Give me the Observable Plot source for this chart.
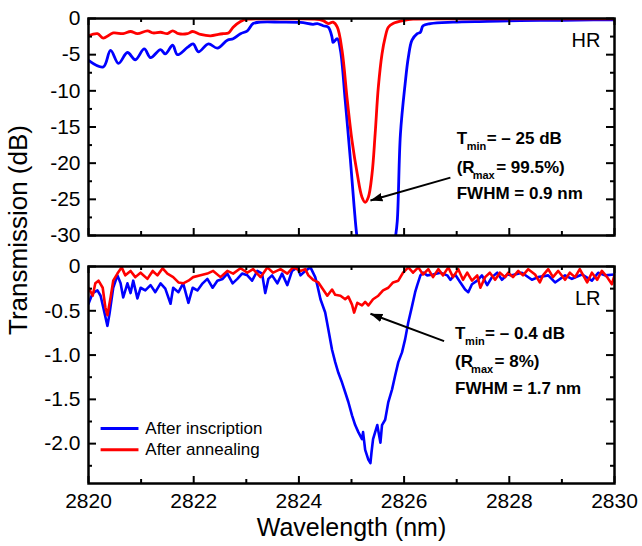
<!DOCTYPE html>
<html><head><meta charset="utf-8">
<script src="https://cdn.jsdelivr.net/npm/d3@7"></script>
<script src="https://cdn.jsdelivr.net/npm/@observablehq/plot@0.6"></script>
<style>
body{margin:0;background:#fff;}
#wrap{position:relative;width:642px;height:546px;font-family:"Liberation Sans",Arial,sans-serif;color:#000;}
#wrap svg{display:block;}
#ylab{position:absolute;left:-132px;top:215px;width:300px;height:30px;line-height:30px;text-align:center;font-size:26px;transform:rotate(-90deg);white-space:nowrap;z-index:2;}
</style></head><body><div id="wrap"><div id="ylab">Transmission (dB)</div></div>
<script>
// ---- data: [wavelength (nm), transmission (dB)] ----
const hrInscription = [[2820.00,-5.8],[2820.28,-6.7],[2820.42,-4.4],[2820.57,-6.2],[2820.74,-4.7],[2820.89,-5.7],[2821.06,-4.2],[2821.18,-5.4],[2821.37,-4.3],[2821.46,-4.9],[2821.60,-3.7],[2821.69,-5.0],[2821.88,-4.0],[2821.99,-3.5],[2822.09,-4.6],[2822.28,-3.5],[2822.45,-4.1],[2822.64,-3.0],[2822.75,-2.8],[2822.89,-2.1],[2823.02,-1.7],[2823.13,-0.7],[2823.27,-0.5],[2823.65,-0.5],[2824.03,-0.55],[2824.27,-0.8],[2824.35,-0.7],[2824.46,-1.0],[2824.56,-1.2],[2824.63,-2.6],[2824.65,-3.3],[2824.73,-2.8],[2824.79,-4.4],[2824.88,-11.3],[2824.98,-19.6],[2825.05,-26],[2825.11,-30.5],[2825.25,-36],[2825.50,-38],[2825.75,-34],[2825.83,-30.5],[2825.87,-28],[2825.93,-16],[2826.02,-9],[2826.08,-5.4],[2826.15,-3],[2826.25,-2.1],[2826.31,-1.9],[2826.36,-1.0],[2826.50,-0.7],[2826.93,-0.5],[2827.58,-0.4],[2828.20,-0.3],[2829.00,-0.25],[2829.60,-0.2],[2830.00,-0.2]];
const hrAnnealing = [[2820.00,-2.4],[2820.17,-2.1],[2820.28,-2.7],[2820.47,-2.0],[2820.66,-2.1],[2820.80,-1.8],[2820.93,-2.1],[2821.12,-1.7],[2821.23,-2.0],[2821.37,-1.9],[2821.50,-2.1],[2821.60,-1.7],[2821.71,-2.1],[2821.88,-2.1],[2821.98,-1.8],[2822.13,-2.2],[2822.32,-2.4],[2822.47,-2.2],[2822.56,-2.1],[2822.66,-2.0],[2822.75,-1.2],[2822.89,-0.4],[2823.02,-0.1],[2823.50,-0.05],[2824.00,-0.05],[2824.30,-0.1],[2824.46,-0.3],[2824.56,-0.7],[2824.65,-0.5],[2824.73,-1.2],[2824.82,-4.4],[2824.92,-11.3],[2825.01,-16.9],[2825.11,-21.5],[2825.20,-24.7],[2825.26,-25.4],[2825.32,-24.7],[2825.39,-21.5],[2825.45,-15.9],[2825.51,-9.5],[2825.58,-4.9],[2825.64,-2.6],[2825.70,-1.2],[2825.79,-0.7],[2825.98,-0.3],[2826.17,-0.1],[2827.00,-0.05],[2828.00,-0.05],[2829.00,-0.05],[2830.00,-0.05]];
const lrInscription = [[2820.00,-0.42],[2820.08,-0.30],[2820.17,-0.27],[2820.23,-0.33],[2820.28,-0.46],[2820.36,-0.67],[2820.40,-0.53],[2820.47,-0.24],[2820.55,-0.10],[2820.61,-0.19],[2820.66,-0.35],[2820.74,-0.19],[2820.80,-0.30],[2820.85,-0.16],[2820.93,-0.36],[2820.99,-0.24],[2821.08,-0.27],[2821.18,-0.21],[2821.27,-0.29],[2821.37,-0.19],[2821.46,-0.25],[2821.56,-0.42],[2821.61,-0.24],[2821.71,-0.29],[2821.80,-0.19],[2821.90,-0.41],[2821.98,-0.24],[2822.07,-0.27],[2822.17,-0.19],[2822.26,-0.14],[2822.36,-0.24],[2822.45,-0.16],[2822.55,-0.14],[2822.64,-0.08],[2822.74,-0.19],[2822.83,-0.14],[2822.92,-0.08],[2823.02,-0.10],[2823.11,-0.16],[2823.21,-0.05],[2823.30,-0.08],[2823.36,-0.30],[2823.42,-0.14],[2823.49,-0.10],[2823.59,-0.19],[2823.68,-0.08],[2823.78,-0.21],[2823.87,-0.05],[2823.97,-0.01],[2824.03,-0.10],[2824.12,-0.05],[2824.22,-0.01],[2824.31,-0.12],[2824.35,-0.21],[2824.41,-0.37],[2824.50,-0.52],[2824.56,-0.71],[2824.63,-0.94],[2824.69,-1.08],[2824.75,-1.20],[2824.82,-1.31],[2824.88,-1.42],[2824.94,-1.53],[2825.01,-1.68],[2825.07,-1.79],[2825.13,-1.87],[2825.20,-1.95],[2825.22,-1.87],[2825.26,-2.07],[2825.32,-2.18],[2825.36,-2.22],[2825.38,-2.10],[2825.41,-1.95],[2825.49,-1.79],[2825.55,-1.99],[2825.58,-1.79],[2825.64,-1.73],[2825.70,-1.53],[2825.77,-1.39],[2825.83,-1.23],[2825.89,-1.08],[2825.96,-0.97],[2826.02,-0.82],[2826.08,-0.63],[2826.15,-0.45],[2826.21,-0.29],[2826.25,-0.21],[2826.31,-0.10],[2826.36,-0.07],[2826.44,-0.10],[2826.55,-0.09],[2826.69,-0.07],[2826.82,-0.10],[2826.88,-0.15],[2826.97,-0.09],[2827.07,-0.18],[2827.16,-0.26],[2827.22,-0.29],[2827.29,-0.20],[2827.39,-0.16],[2827.48,-0.10],[2827.58,-0.21],[2827.67,-0.12],[2827.77,-0.07],[2827.86,-0.15],[2827.96,-0.09],[2828.05,-0.10],[2828.24,-0.07],[2828.43,-0.15],[2828.55,-0.12],[2828.74,-0.10],[2828.87,-0.18],[2829.06,-0.10],[2829.19,-0.14],[2829.38,-0.09],[2829.57,-0.16],[2829.69,-0.07],[2829.82,-0.10],[2830.00,-0.09]];
const lrAnnealing = [[2820.00,-0.24],[2820.08,-0.33],[2820.13,-0.19],[2820.19,-0.16],[2820.27,-0.24],[2820.32,-0.46],[2820.36,-0.55],[2820.42,-0.35],[2820.47,-0.16],[2820.55,-0.08],[2820.63,-0.01],[2820.70,-0.10],[2820.80,-0.05],[2820.89,-0.12],[2820.99,-0.07],[2821.12,-0.14],[2821.22,-0.05],[2821.31,-0.10],[2821.41,-0.02],[2821.50,-0.08],[2821.61,-0.12],[2821.71,-0.18],[2821.80,-0.19],[2821.90,-0.16],[2821.99,-0.12],[2822.13,-0.10],[2822.26,-0.08],[2822.37,-0.05],[2822.51,-0.12],[2822.64,-0.05],[2822.75,-0.08],[2822.89,-0.02],[2823.02,-0.07],[2823.13,-0.03],[2823.27,-0.12],[2823.40,-0.01],[2823.51,-0.07],[2823.65,-0.03],[2823.78,-0.08],[2823.89,-0.01],[2824.03,-0.05],[2824.12,-0.03],[2824.18,-0.10],[2824.27,-0.15],[2824.37,-0.18],[2824.46,-0.26],[2824.54,-0.33],[2824.63,-0.26],[2824.69,-0.32],[2824.79,-0.33],[2824.88,-0.37],[2824.94,-0.34],[2825.01,-0.43],[2825.05,-0.52],[2825.11,-0.41],[2825.20,-0.44],[2825.26,-0.40],[2825.32,-0.44],[2825.41,-0.37],[2825.51,-0.33],[2825.60,-0.27],[2825.70,-0.24],[2825.79,-0.18],[2825.89,-0.16],[2825.98,-0.07],[2826.08,-0.01],[2826.17,-0.07],[2826.27,-0.01],[2826.36,-0.09],[2826.46,-0.03],[2826.55,-0.12],[2826.65,-0.03],[2826.74,-0.10],[2826.84,-0.01],[2826.93,-0.12],[2827.03,-0.03],[2827.12,-0.15],[2827.20,-0.07],[2827.29,-0.16],[2827.39,-0.10],[2827.45,-0.24],[2827.54,-0.12],[2827.63,-0.07],[2827.73,-0.15],[2827.82,-0.07],[2827.92,-0.12],[2827.98,-0.07],[2828.07,-0.12],[2828.17,-0.05],[2828.26,-0.10],[2828.36,-0.03],[2828.49,-0.09],[2828.58,-0.18],[2828.64,-0.10],[2828.74,-0.03],[2828.83,-0.12],[2828.93,-0.05],[2829.06,-0.15],[2829.15,-0.07],[2829.25,-0.12],[2829.34,-0.03],[2829.48,-0.18],[2829.57,-0.07],[2829.67,-0.15],[2829.76,-0.05],[2829.86,-0.12],[2829.95,-0.20],[2830.00,-0.10]];

const seriesNames = ["After inscription", "After annealing"];
const seriesColors = ["#0000ff", "#ff0000"];

// ticks
const xMajor = [2820, 2822, 2824, 2826, 2828, 2830];
const xMinor = [2821, 2823, 2825, 2827, 2829];
const xLabels = ["2820", "2822", "2824", "2826", "2828", "2830"];
const hrYMajor = [0, -5, -10, -15, -20, -25, -30];
const hrYMinor = [-2.5, -7.5, -12.5, -17.5, -22.5, -27.5];
const hrYLabels = ["0", "-5", "-10", "-15", "-20", "-25", "-30"];
const lrYMajor = [0, -0.5, -1.0, -1.5, -2.0];
const lrYMinor = [-0.25, -0.75, -1.25, -1.75, -2.25];
const lrYLabels = ["0", "-0.5", "-1.0", "-1.5", "-2.0"];

// annotations (data coordinates)
const hrNote = {x: 2827.0, y: [-17.3, -21.3, -24.95], t1: "= \u2013 25 dB", t2: "= 99.5%)", t3: "FWHM = 0.9 nm",
  arrow: {x1: 2826.88, y1: -22.0, x2: 2825.36, y2: -25.15}, tag: "HR"};
const lrNote = {x: 2826.97, y: [-0.824, -1.14, -1.445], t1: "= \u2013 0.4 dB", t2: "= 8%)", t3: "FWHM = 1.7 nm",
  arrow: {x1: 2826.76, y1: -0.843, x2: 2825.36, y2: -0.534}, tag: "LR"};
const legendPos = {x1: 2820.23, x2: 2820.95, xt: 2821.08, y: [-1.83, -2.07]};

// layout
const W = 642, ML = 88, MR = 28;
const FW = W - ML - MR;
const topH = 250, topMT = 18, topMB = 15;
const botH = 296, botMT = 16, botMB = 63;

const rows = a => a.map(([x, y]) => ({x, y}));
const font = "'Liberation Sans', Arial, sans-serif";

function fmt(major, labels) { return v => { const i = major.findIndex(m => Math.abs(m - v) < 1e-9); return i >= 0 ? labels[i] : ""; }; }

// filled arrowhead marker
function filledArrow(color) {
  const ns = "http://www.w3.org/2000/svg";
  const m = document.createElementNS(ns, "marker");
  m.setAttribute("viewBox", "-10 -5 10 10");
  m.setAttribute("markerWidth", 6);
  m.setAttribute("markerHeight", 6);
  m.setAttribute("refX", 0);
  m.setAttribute("refY", 0);
  m.setAttribute("orient", "auto");
  const p = document.createElementNS(ns, "path");
  p.setAttribute("d", "M-10,-3.6L0,0L-10,3.6Z");
  p.setAttribute("fill", color);
  p.setAttribute("stroke", "none");
  m.appendChild(p);
  return m;
}

function frameAxes(yMajor, yMinor, yLabels, showX, FH) {
  const blank = () => "";
  const tk = {stroke: "black", strokeWidth: 2};
  return [
    Plot.tickY(yMajor, {y: d => d, insetRight: FW - 8, ...tk}),
    Plot.tickY(yMinor, {y: d => d, insetRight: FW - 4, ...tk}),
    Plot.tickY(yMajor, {y: d => d, insetLeft: FW - 8, ...tk}),
    Plot.tickY(yMinor, {y: d => d, insetLeft: FW - 4, ...tk}),
    Plot.tickX(xMajor, {x: d => d, insetTop: FH - 7, ...tk}),
    Plot.tickX(xMinor, {x: d => d, insetTop: FH - 4, ...tk}),
    Plot.tickX(xMajor, {x: d => d, insetBottom: FH - 7, ...tk}),
    Plot.tickX(xMinor, {x: d => d, insetBottom: FH - 4, ...tk}),
    Plot.axisY(yMajor, {anchor: "left", tickSize: 0, tickPadding: 8, tickFormat: fmt(yMajor, yLabels), fontSize: 21, label: null}),
    showX ? Plot.axisX(xMajor, {anchor: "bottom", tickSize: 0, tickPadding: 10, tickFormat: fmt(xMajor, xLabels), fontSize: 21, label: null}) : null,
    Plot.frame({stroke: "black", strokeWidth: 2.5})
  ];
}

function noteMarks(n) {
  const common = {textAnchor: "start", lineAnchor: "bottom", fontWeight: "bold", fill: "black"};
  const P = [n];
  return [
    Plot.link(P, {x1: d => d.arrow.x1, y1: d => d.arrow.y1, x2: d => d.arrow.x2, y2: d => d.arrow.y2, stroke: "black", strokeWidth: 2, markerEnd: filledArrow}),
    Plot.text(P, {...common, x: "x", y: d => d.y[0], text: () => "T", fontSize: 17}),
    Plot.text(P, {...common, x: "x", y: d => d.y[0], text: () => "min", fontSize: 11, dx: 10, dy: 6}),
    Plot.text(P, {...common, x: "x", y: d => d.y[0], text: d => d.t1, fontSize: 17, dx: 30}),
    Plot.text(P, {...common, x: "x", y: d => d.y[1], text: () => "(R", fontSize: 17}),
    Plot.text(P, {...common, x: "x", y: d => d.y[1], text: () => "max", fontSize: 11, dx: 16, dy: 6}),
    Plot.text(P, {...common, x: "x", y: d => d.y[1], text: d => d.t2, fontSize: 17, dx: 39.5}),
    Plot.text(P, {...common, x: "x", y: d => d.y[2], text: d => d.t3, fontSize: 17}),
    Plot.text(P, {frameAnchor: "top-right", text: d => d.tag, fontSize: 20, textAnchor: "end", lineAnchor: "bottom", dx: -14, dy: n.tag === "HR" ? 28 : 38, fill: "black"})
  ];
}

const topPlot = Plot.plot({
  width: W, height: topH,
  marginLeft: ML, marginRight: MR, marginTop: topMT, marginBottom: topMB,
  style: {fontFamily: font, color: "black", background: "white", overflow: "visible"},
  x: {domain: [2820, 2830], axis: null},
  y: {domain: [-30, 0], axis: null},
  marks: [
    Plot.line(rows(hrInscription), {x: "x", y: "y", stroke: seriesColors[0], strokeWidth: 2.8, curve: "catmull-rom", clip: true}),
    Plot.line(rows(hrAnnealing), {x: "x", y: "y", stroke: seriesColors[1], strokeWidth: 2.8, curve: "catmull-rom", clip: true}),
    ...frameAxes(hrYMajor, hrYMinor, hrYLabels, false, topH - topMT - topMB),
    ...noteMarks(hrNote)
  ]
});

const legendRows = seriesNames.map((name, i) => ({name, color: seriesColors[i], y: legendPos.y[i]}));

const bottomPlot = Plot.plot({
  width: W, height: botH,
  marginLeft: ML, marginRight: MR, marginTop: botMT, marginBottom: botMB,
  style: {fontFamily: font, color: "black", background: "white", overflow: "visible"},
  x: {domain: [2820, 2830], axis: null},
  y: {domain: [-2.45, 0], axis: null},
  marks: [
    Plot.line(rows(lrInscription), {x: "x", y: "y", stroke: seriesColors[0], strokeWidth: 2.6, clip: true}),
    Plot.line(rows(lrAnnealing), {x: "x", y: "y", stroke: seriesColors[1], strokeWidth: 2.6, clip: true}),
    ...frameAxes(lrYMajor, lrYMinor, lrYLabels, true, botH - botMT - botMB),
    ...noteMarks(lrNote),
    Plot.link(legendRows, {x1: () => legendPos.x1, x2: () => legendPos.x2, y1: "y", y2: "y", stroke: "color", strokeWidth: 3}),
    Plot.text(legendRows, {x: () => legendPos.xt, y: "y", text: "name", textAnchor: "start", fontSize: 17, fill: "black"}),
    Plot.text(["Wavelength (nm)"], {frameAnchor: "bottom", text: d => d, fontSize: 25, lineAnchor: "bottom", dy: 52, fill: "black"})
  ]
});

const wrap = document.getElementById("wrap");
wrap.appendChild(topPlot);
wrap.appendChild(bottomPlot);
</script>
</body></html>
